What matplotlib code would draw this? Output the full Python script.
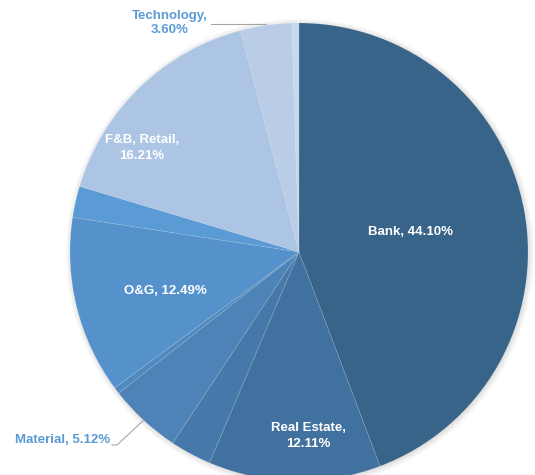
import numpy as np
import matplotlib
matplotlib.use('Agg')
from matplotlib import pyplot as plt
from matplotlib.patches import Circle

# sectors, clockwise from 12 o'clock
sectors = ['Bank', 'Real Estate', 'Other 1', 'Material', 'Other 2',
           'O&G', 'Other 3', 'F&B, Retail', 'Technology', 'Other 4']
shares = [44.10, 12.11, 2.9, 5.12, 0.45, 12.49, 2.2, 16.21, 3.60, 0.5]
colors = ['#386489', '#41719F', '#4679AA', '#4D83B6', '#5089BF',
          '#5592CB', '#5B9BD5', '#ADC5E4', '#B9CDE6', '#C8D8EC']
labels = ['Bank, 44.10%', 'Real Estate,\n12.11%', '', 'Material, 5.12%', '',
          'O&G, 12.49%', '', 'F&B, Retail,\n16.21%', 'Technology,\n3.60%', '']

W, H = 535, 475
cx, cy, R = 299, H - 252, 229

fig = plt.figure(figsize=(W / 100, H / 100), dpi=100)
ax = fig.add_axes([0, 0, 1, 1])

# soft shadow round the pie
for i in range(10):
    ax.add_patch(Circle((cx + 1, cy - 1), R + i * 0.6, color='#000000',
                        alpha=0.012, lw=0, zorder=0))

wedges, _ = ax.pie(shares, colors=colors, startangle=90, counterclock=False,
                   radius=R, center=(cx, cy), frame=True,
                   wedgeprops=dict(edgecolor=(1, 1, 1, 0.15), linewidth=0.5))
ax.set_xlim(0, W)
ax.set_ylim(0, H)
ax.set_aspect('equal')
ax.axis('off')

font = dict(family=['Liberation Sans', 'DejaVu Sans'], fontweight='bold', fontsize=9.5)

# inside labels (offset from centre, px)
inside = {0: (111, 20), 1: (9, -184), 5: (-134, -39), 7: (-157, 104)}
for i, (dx, dy) in inside.items():
    ax.text(cx + dx, cy + dy, labels[i], color='white', ha='center', va='center',
            linespacing=1.35, **font)

# outside labels with leader lines, anchored at the wedge's mid angle on the rim
def rim(i):
    w = wedges[i]
    a = np.deg2rad((w.theta1 + w.theta2) / 2)
    return cx + R * np.cos(a), cy + R * np.sin(a)

x8, y8 = rim(8)
ax.plot([x8, 211], [y8 + 1, y8 + 1], color='#A6A6A6', lw=0.8, zorder=3)
ax.text(170, H - 23, labels[8], color='#5B9BD5', ha='center', va='center',
        linespacing=1.3, **font)

x3, y3 = rim(3)
ax.plot([x3, 117, 112], [y3, H - 445, H - 445], color='#A6A6A6', lw=0.8, zorder=3)
ax.text(110, H - 440, labels[3], color='#5B9BD5', ha='right', va='center', **font)

plt.savefig('out.png', dpi=100)
plt.close()
